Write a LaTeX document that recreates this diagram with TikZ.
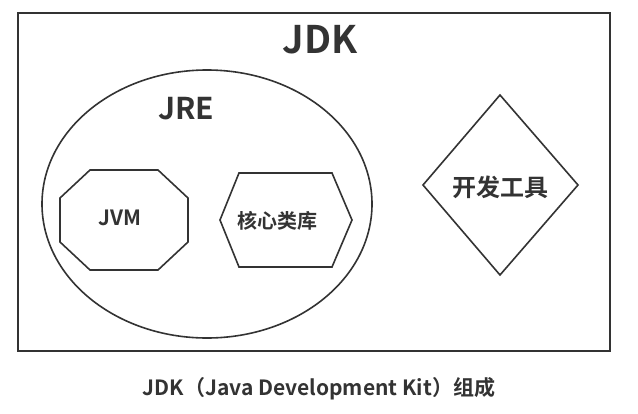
\documentclass[tikz,border=0pt]{standalone}
\usepackage{fontspec}
\setmainfont{Noto Sans CJK SC}[BoldFont={* Bold}]
\usetikzlibrary{shapes.geometric}
\definecolor{ink}{HTML}{333333}
\tikzset{
  shp/.style={draw=ink, line width=1.6pt},
  lbl/.style={text=ink, font=\bfseries, inner sep=0pt}
}
\begin{document}
\begin{tikzpicture}[x=1pt,y=-1pt]
\useasboundingbox (0,0) rectangle (638,413);
\fill[white] (0,0) rectangle (638,413);
\node[shp, draw, minimum width=592pt, minimum height=338pt, anchor=north west, inner sep=0pt] (jdk) at (17,12) {};
\node[lbl, font=\bfseries\fontsize{38}{40}\selectfont] (jdkt) at (320,40) {JDK};
\draw[shp] (207,204) ellipse [x radius=165, y radius=134];
\coordinate (jre) at (207,204);
\node[lbl, font=\bfseries\fontsize{30}{32}\selectfont] (jret) at (186,109) {JRE};
% JVM octagon
\draw[shp] (90,170) -- (158,170) -- (188,198) -- (188,242) -- (158,270) -- (90,270) -- (60,242) -- (60,198) -- cycle;
\coordinate (jvm) at (124,220);
\node[lbl, font=\bfseries\fontsize{21}{23}\selectfont] (jvmt) at (120,218) {JVM};
% hexagon
\draw[shp] (220,220) -- (239,173) -- (332,173) -- (352,220) -- (332,267) -- (239,267) -- cycle;
\coordinate (lib) at (286,220);
\node[lbl, font=\bfseries\fontsize{20}{22}\selectfont] (libt) at (277,221) {核心类库};
% diamond
\draw[shp] (500,95) -- (578,185) -- (500,275) -- (423,185) -- cycle;
\coordinate (tool) at (500,185);
\node[lbl, font=\bfseries\fontsize{24}{26}\selectfont] (toolt) at (500,187) {开发工具};
\node[lbl, font=\bfseries\fontsize{21}{23}\selectfont] (cap) at (319,389) {JDK（Java Development Kit）组成};
\end{tikzpicture}
\end{document}
